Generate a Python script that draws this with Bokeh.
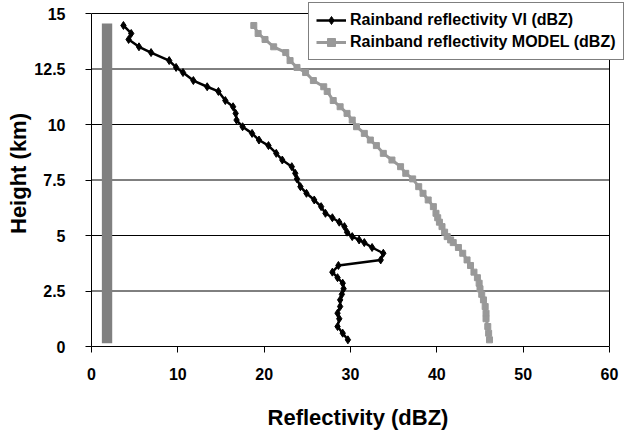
from bokeh.plotting import figure
from bokeh.models import FixedTicker, Legend, LegendItem
from bokeh.embed import file_html
from bokeh.resources import INLINE

# Sounding heights (km) shared by both reflectivity profiles
height_km = [14.46, 14.1, 13.83, 13.5, 13.24, 12.88, 12.57, 12.34, 11.98, 11.7,
             11.49, 11.08, 10.8, 10.5, 10.2, 9.9, 9.6, 9.3, 9.05, 8.7,
             8.4, 8.1, 7.8, 7.55, 7.2, 6.9, 6.6, 6.3, 6.0, 5.8,
             5.6, 5.4, 5.15, 4.95, 4.8, 4.68, 4.46, 4.2, 3.9, 3.65,
             3.35, 3.1, 2.85, 2.6, 2.35, 2.1, 1.8, 1.5, 1.25, 0.9,
             0.6, 0.3]

# Observed (VI) reflectivity profile, dBZ
vi_dbz = [3.7, 4.6, 4.3, 5.5, 6.9, 9.0, 9.8, 10.6, 11.8, 13.4,
          14.7, 15.5, 16.4, 16.7, 16.8, 17.5, 18.6, 19.4, 20.5, 21.4,
          22.1, 23.2, 23.6, 23.8, 24.2, 24.9, 25.8, 26.6, 27.1, 27.9,
          28.7, 29.3, 29.6, 30.2, 31.0, 31.6, 32.5, 33.8, 33.5, 28.6,
          27.9, 28.5, 29.1, 29.2, 29.0, 28.8, 28.8, 28.5, 28.7, 28.5,
          29.1, 29.7]

# Simulated (MODEL) reflectivity profile, dBZ
model_dbz = [18.8, 19.3, 20.1, 21.1, 22.5, 23.0, 23.8, 24.8, 25.7, 26.9,
             27.3, 28.0, 28.8, 29.6, 30.2, 30.7, 31.6, 32.3, 33.0, 33.8,
             34.8, 35.8, 36.4, 37.2, 37.9, 38.4, 39.0, 39.6, 39.9, 40.1,
             40.3, 40.6, 40.9, 41.2, 41.6, 41.9, 42.5, 43.0, 43.5, 43.9,
             44.3, 44.7, 44.9, 45.0, 45.2, 45.4, 45.6, 45.7, 45.7, 45.9,
             46.0, 46.1]

# Vertical column bar (dBZ extent and height extent)
column_dbz = [1.2, 2.4]
column_km = [0.15, 14.55]

x_ticks = [0, 10, 20, 30, 40, 50, 60]
y_ticks = [0, 2.5, 5, 7.5, 10, 12.5, 15]
y_tick_labels = ["0", "2.5", "5", "7.5", "10", "12.5", "15"]

FONT = "Liberation Sans"

# The frame runs to the page's top and right edges so the legend box can sit
# above/right of the axes box; the axes box itself is drawn up to 60 dBZ / 15 km.
x_lo, x_hi = x_ticks[0], x_ticks[-1]
y_lo, y_hi = y_ticks[0], y_ticks[-1]
p = figure(width=624, height=433,
           x_range=(x_lo, x_hi * 533 / 518), y_range=(y_lo, y_hi * 346 / 333),
           output_backend="svg", toolbar_location=None,
           min_border_left=91, min_border_right=0,
           min_border_top=0, min_border_bottom=87)
p.background_fill_color = "white"
p.border_fill_color = "white"
p.outline_line_color = None

# horizontal gridlines plus the right-hand edge of the axes box
n_grid = len(y_ticks) - 1
p.segment(x0=[x_lo] * n_grid, y0=y_ticks[1:], x1=[x_hi] * n_grid, y1=y_ticks[1:],
          line_color="black", line_width=1)
p.segment(x0=[x_hi], y0=[y_lo], x1=[x_hi], y1=[y_hi], line_color="black", line_width=1)

p.quad(left=column_dbz[0], right=column_dbz[1], bottom=column_km[0], top=column_km[1],
       fill_color="#808080", line_color=None)

model_line = p.line(model_dbz, height_km, line_color="#999999", line_width=3)
model_pts = p.scatter(model_dbz, height_km, marker="square", size=6,
                      fill_color="#999999", line_color="#999999")
vi_line = p.line(vi_dbz, height_km, line_color="black", line_width=2.5)
vi_pts = p.scatter(vi_dbz, height_km, marker="diamond", size=8,
                   fill_color="black", line_color="black")

# axes
p.xaxis.ticker = FixedTicker(ticks=x_ticks)
p.yaxis.ticker = FixedTicker(ticks=y_ticks)
p.xaxis.bounds = (x_lo, x_hi)
p.yaxis.bounds = (y_lo, y_hi)
p.yaxis.major_label_overrides = {t: s for t, s in zip(y_ticks, y_tick_labels)}
for ax in (p.xaxis, p.yaxis):
    ax.minor_tick_line_color = None
    ax.major_tick_in = 0
    ax.major_tick_out = 6
    ax.axis_line_color = "black"
    ax.major_tick_line_color = "black"
    ax.major_label_text_font = FONT
    ax.major_label_text_font_style = "bold"
    ax.major_label_text_font_size = "16px"
    ax.major_label_text_color = "black"
    ax.axis_label_text_font = FONT
    ax.axis_label_text_font_style = "bold"
    ax.axis_label_text_font_size = "22px"
    ax.axis_label_text_color = "black"

p.xaxis.axis_label = "Reflectivity (dBZ)"
p.yaxis.axis_label = "Height (km)"
p.xaxis.major_label_standoff = 15
p.xaxis.axis_label_standoff = 22
p.yaxis.major_label_standoff = 20
p.yaxis.axis_label_standoff = 0

p.xgrid.grid_line_color = None
p.ygrid.grid_line_color = None

legend = Legend(items=[
    LegendItem(label="Rainband reflectivity VI (dBZ)", renderers=[vi_line, vi_pts]),
    LegendItem(label="Rainband reflectivity MODEL (dBZ)", renderers=[model_line, model_pts]),
], location=(217, 286))
legend.label_text_font = FONT
legend.label_text_font_style = "bold"
legend.label_text_font_size = "16px"
legend.label_text_color = "black"
legend.label_standoff = 4
legend.glyph_width = 30
legend.glyph_height = 20
legend.label_height = 20
legend.spacing = 2
legend.padding = 7
legend.margin = 0
legend.border_line_color = "black"
legend.border_line_width = 1
legend.background_fill_color = "white"
legend.background_fill_alpha = 1
p.add_layout(legend, "center")

open("out.html", "w").write(file_html(p, INLINE))
